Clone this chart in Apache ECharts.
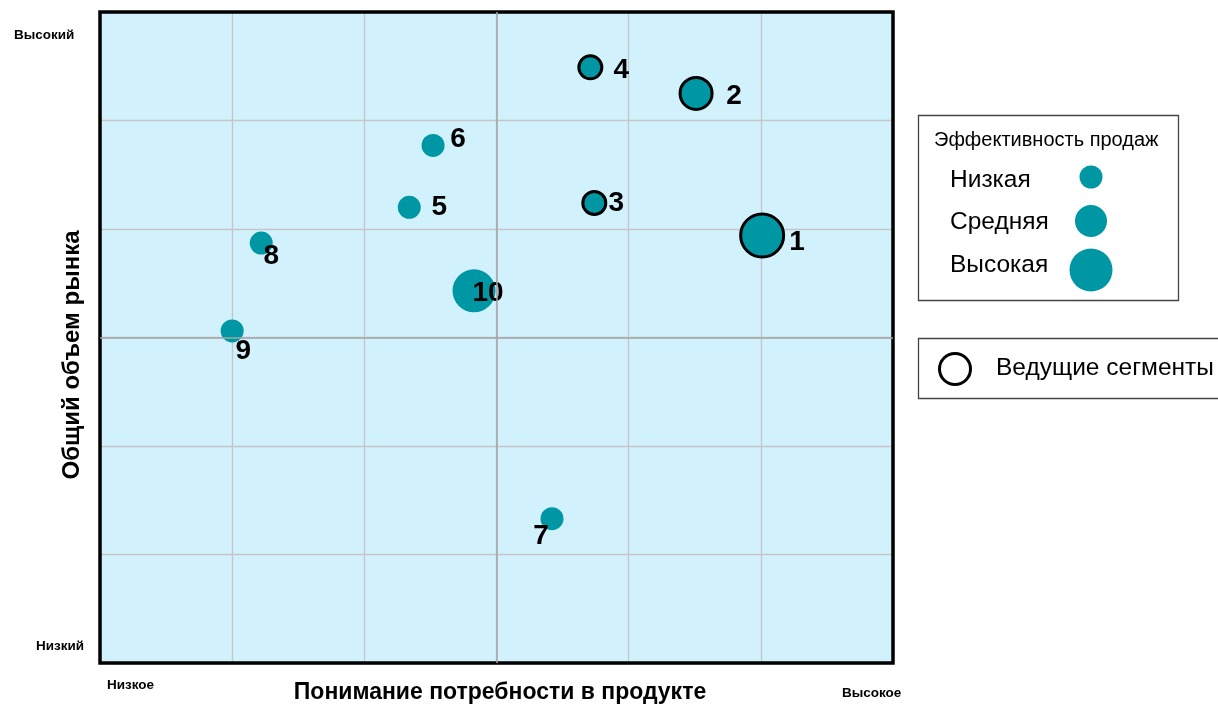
<!DOCTYPE html>
<html>
<head>
<meta charset="utf-8">
<script src="https://cdn.jsdelivr.net/npm/echarts@6/dist/echarts.min.js"></script>
<style>
    html, body { margin: 0; padding: 0; background: #fff; }
    #chart { width: 1218px; height: 706px; }
</style>
</head>
<body>
<div id="chart"></div>
<script>
// data
const segments = ['1', '2', '3', '4', '5', '6', '7', '8', '9', '10'];
const understanding = [5.01, 4.51, 3.74, 3.71, 2.34, 2.52, 3.42, 1.22, 1.00, 2.83];
const marketVolume = [3.94, 5.25, 4.24, 5.49, 4.20, 4.77, 1.33, 3.87, 3.06, 3.43];
const efficiency = [2, 1, 0, 0, 0, 0, 0, 0, 0, 2]; // index into efficiencyLevels
const leading = [true, true, true, true, false, false, false, false, false, false];
const efficiencyLevels = ['Низкая', 'Средняя', 'Высокая'];
const xEnds = ['Низкое', 'Высокое'];
const yEnds = ['Низкий', 'Высокий'];
const xName = 'Понимание потребности в продукте';
const yName = 'Общий объем рынка';
const legendTitle = 'Эффективность продаж';
const leadingName = 'Ведущие сегменты';

// layout / style
const font = '"Liberation Sans", Arial, sans-serif';
const teal = '#0097a5';
const levelSizes = [23, 32, 43];
const labelOffsets = [[35, 7], [38, 3], [22, 0], [31, 3], [30, 0], [25, -6], [-11, 18], [10, 13], [11, 20], [14, 2]];

const points = segments.map((name, i) => ({
    name,
    value: [understanding[i], marketVolume[i]],
    symbolSize: levelSizes[efficiency[i]],
    itemStyle: {
        color: teal,
        opacity: 1,
        borderColor: leading[i] ? '#000' : teal,
        borderWidth: leading[i] ? 3 : 0,
    },
    label: {offset: labelOffsets[i]},
}));

const text = (x, y, str, size, weight, extra = {}) => ({
    type: 'text',
    x, y,
    z: 10,
    style: {text: str, fontSize: size, fontWeight: weight, fontFamily: font, fill: '#000', verticalAlign: 'middle', ...extra},
});

const legendItemY = [180, 222, 265];
const legendCircleY = [177, 221, 270];

const graphic = [
    // quadrant end labels
    text(14, 35, yEnds[1], 13.5, 'bold'),
    text(36, 646, yEnds[0], 13.5, 'bold'),
    text(107, 685, xEnds[0], 13.5, 'bold'),
    text(842, 693, xEnds[1], 13.5, 'bold'),
    // axis names
    text(500, 693, xName, 23, 'bold', {align: 'center'}),
    {
        type: 'text', x: 72, y: 355, rotation: Math.PI / 2,
        style: {text: yName, fontSize: 24, fontWeight: 'bold', fontFamily: font, fill: '#000', align: 'center', verticalAlign: 'middle'},
    },
    // size legend
    {type: 'rect', shape: {x: 918.5, y: 115.5, width: 260, height: 185}, style: {fill: '#fff', stroke: '#444', lineWidth: 1.3}},
    text(934, 140, legendTitle, 20, 'normal'),
    ...efficiencyLevels.map((lvl, i) => text(950, legendItemY[i], lvl, 24.5, 'normal')),
    ...efficiencyLevels.map((lvl, i) => ({
        type: 'circle', z: 10, shape: {cx: 1091, cy: legendCircleY[i], r: levelSizes[i] / 2}, style: {fill: teal},
    })),
    // leading legend
    {type: 'rect', shape: {x: 918.5, y: 338.5, width: 320, height: 60}, style: {fill: '#fff', stroke: '#444', lineWidth: 1.3}},
    {type: 'circle', z: 10, shape: {cx: 955, cy: 369, r: 15.5}, style: {fill: 'none', stroke: '#000', lineWidth: 3}},
    text(996, 368, leadingName, 24.5, 'normal'),
    // plot frame on top of grid lines
    {type: 'rect', z: 5, shape: {x: 100, y: 12, width: 793, height: 651}, style: {fill: 'none', stroke: '#000', lineWidth: 3.5}},
];

const chart = echarts.init(document.getElementById('chart'));
chart.setOption({
    animation: false,
    grid: {
        left: 100, top: 12, right: 325, bottom: 43,
        show: true,
        backgroundColor: '#d1f1fd',
        borderWidth: 0,
    },
    xAxis: {
        type: 'value', min: 0, max: 6, interval: 1,
        axisLine: {show: false}, axisTick: {show: false}, axisLabel: {show: false},
        splitLine: {show: true, lineStyle: {color: '#c6c6c6', width: 1.3}},
    },
    yAxis: {
        type: 'value', min: 0, max: 6, interval: 1,
        axisLine: {show: false}, axisTick: {show: false}, axisLabel: {show: false},
        splitLine: {show: true, lineStyle: {color: '#c6c6c6', width: 1.3}},
    },
    graphic,
    series: [
        {
            type: 'scatter',
            symbol: 'circle',
            data: points,
            z: 3,
            label: {
                show: true,
                position: 'inside',
                formatter: '{b}',
                fontSize: 28,
                fontWeight: 'bold',
                fontFamily: font,
                color: '#000',
                opacity: 1,
            },
            markLine: {
                silent: true,
                symbol: 'none',
                label: {show: false},
                lineStyle: {color: '#a4a4a4', width: 1.5, type: 'solid', opacity: 1},
                data: [{xAxis: 3}, {yAxis: 3}],
            },
        },
    ],
});
</script>
</body>
</html>
